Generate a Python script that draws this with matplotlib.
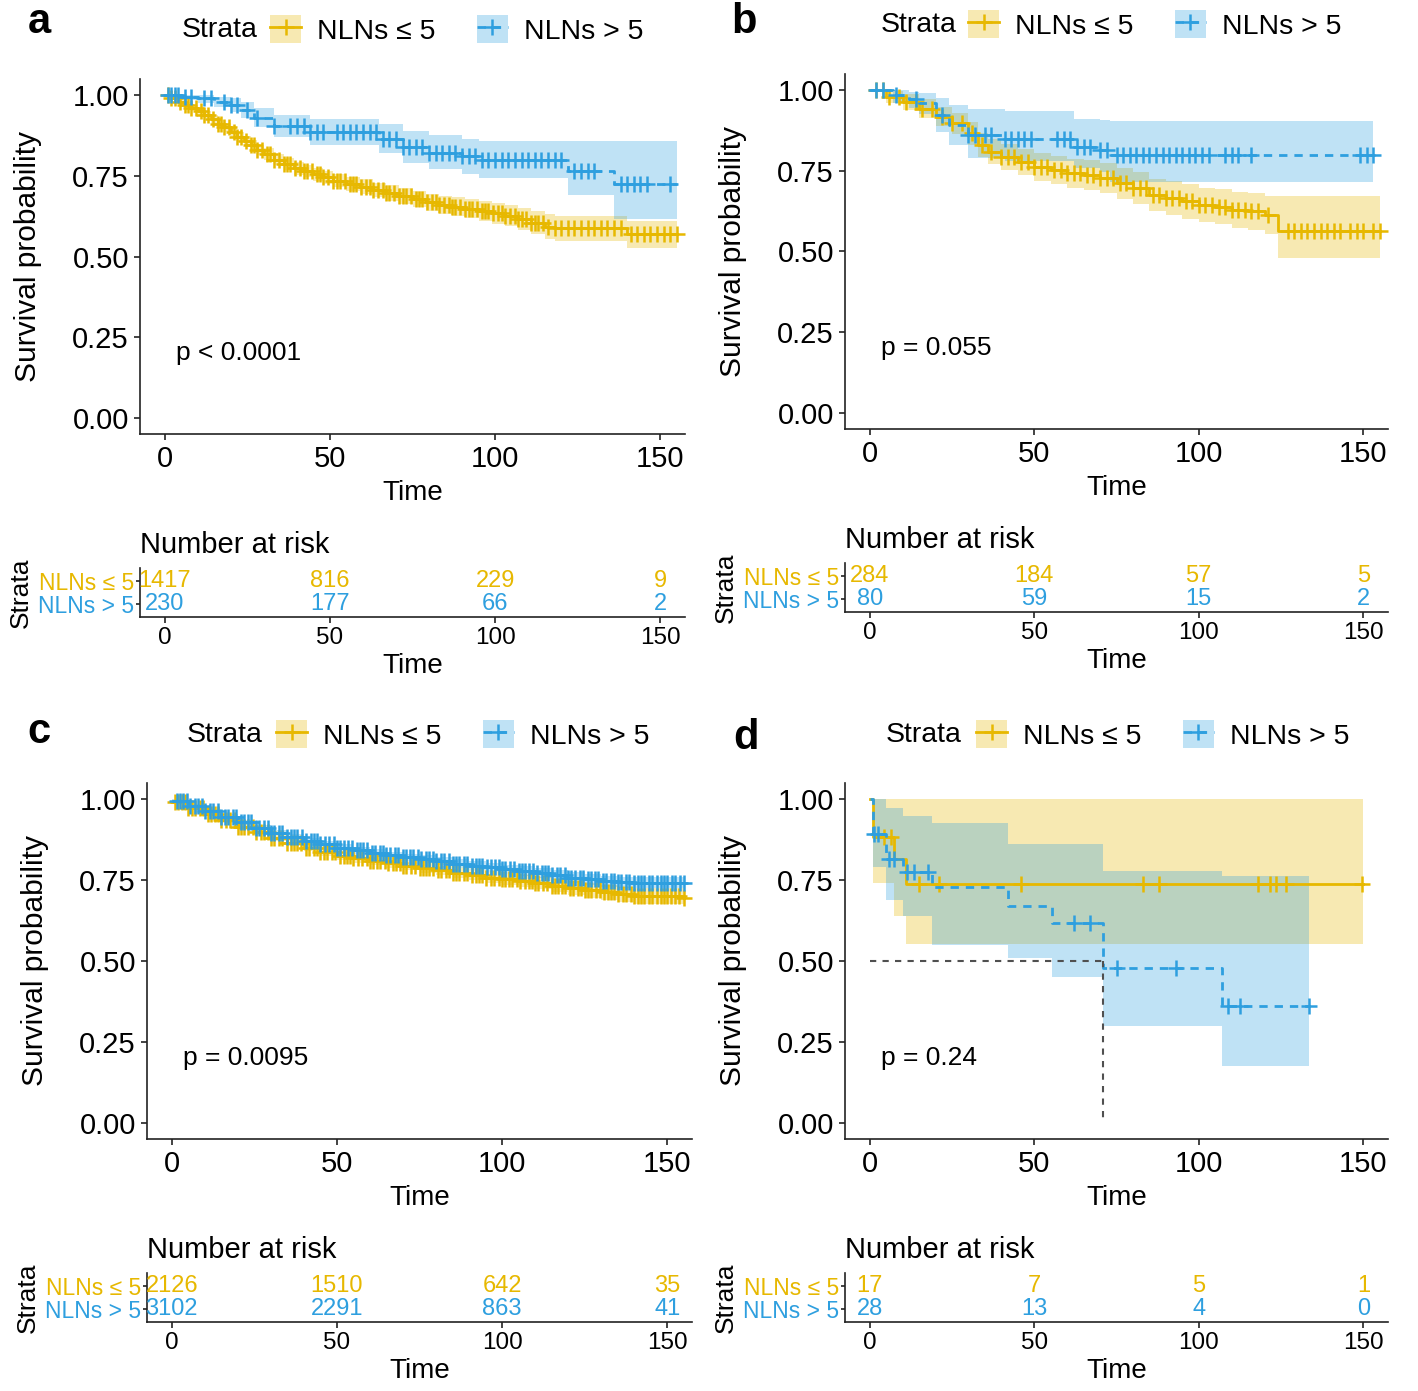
import numpy as np
import matplotlib.pyplot as plt
from matplotlib.patches import Patch
from matplotlib.lines import Line2D

plt.rcParams['font.family'] = ['Liberation Sans', 'DejaVu Sans']

YEL = '#E7B800'
BLU = '#2E9FDF'
groups = ['NLNs \u2264 5', 'NLNs > 5']
pvals = ['p < 0.0001', 'p = 0.055', 'p = 0.0095', 'p = 0.24']
risk_times = [0, 50, 100, 150]

# ---- panel a ----
a_low_t = [0, 2, 4, 6, 8, 10, 12, 14, 16, 18, 20, 22, 24, 26, 28, 30, 33, 36, 39, 42, 45, 48, 51, 55, 59, 63, 67, 71, 75, 79, 83, 87, 91, 95, 99, 103, 107, 111, 115, 118, 140, 155]
a_low_s = [1.0, .99, .98, .97, .96, .95, .94, .925, .91, .90, .885, .87, .858, .845, .83, .817, .80, .786, .773, .765, .755, .745, .735, .725, .716, .706, .697, .688, .678, .668, .660, .654, .648, .641, .634, .626, .617, .605, .592, .587, .569, .569]
a_low_lo = [1.0, .985, .973, .962, .951, .94, .929, .913, .897, .886, .87, .855, .842, .828, .813, .799, .782, .767, .754, .745, .735, .724, .714, .703, .693, .683, .673, .663, .652, .641, .632, .625, .618, .61, .602, .593, .583, .569, .553, .548, .527, .527]
a_low_hi = [1.0, .995, .987, .978, .969, .96, .951, .937, .923, .914, .9, .885, .874, .862, .847, .835, .818, .805, .792, .785, .775, .766, .756, .747, .739, .729, .721, .713, .704, .695, .688, .683, .678, .672, .666, .659, .651, .641, .631, .626, .611, .611]
a_low_cens = [1, 2, 3, 4.5, 6, 7, 8, 9.5, 11, 12, 13, 14.5, 16, 17, 18, 19.5, 21, 22, 23, 24.5, 26, 27, 28, 29.5, 31, 32, 33, 34.5, 36, 37, 38, 39.5, 41, 42, 43, 44.5, 46, 47, 48, 49.5, 51, 52, 53, 54.5, 56, 57, 58, 59.5, 61, 62, 63, 64.5, 66, 67, 68, 69.5, 71, 72, 73, 74.5, 76, 77, 78, 79.5, 81, 82, 83, 84.5, 86, 87, 88, 89.5, 91, 92, 93, 94.5, 96, 97, 98, 99.5, 101, 102, 103, 104.5, 106, 107, 108, 109.5, 111, 112, 113, 114.5, 116, 118, 120, 122, 124, 126, 128, 130, 132, 134, 136, 138, 141, 143, 145, 147, 149, 151, 153, 155]
a_high_t = [0, 5, 10, 15, 20, 23, 27, 33, 44, 65, 72, 80, 90, 95, 122, 136, 155]
a_high_s = [1.0, .995, .99, .98, .97, .955, .93, .905, .885, .865, .84, .822, .81, .80, .765, .724, .724]
a_high_lo = [1.0, .985, .975, .962, .948, .93, .9, .87, .845, .82, .79, .77, .755, .742, .69, .615, .615]
a_high_hi = [1.0, 1.0, 1.0, .995, .99, .98, .96, .94, .925, .91, .89, .875, .865, .858, .858, .858, .858]
a_high_cens = [1, 2, 3, 4, 6, 8, 12, 14, 18, 20, 22, 25, 28, 33, 38, 40, 42, 44, 46, 48, 52, 54, 56, 58, 60, 62, 64, 66, 68, 70, 72, 74, 76, 78, 80, 82, 84, 86, 88, 90, 92, 94, 96, 98, 100, 102, 104, 106, 108, 110, 112, 114, 116, 118, 120, 124, 126, 128, 130, 138, 140, 142, 144, 146, 153]
a_risk = [[1417, 816, 229, 9], [230, 177, 66, 2]]

# ---- panel b ----
b_low_t = [0, 5, 10, 15, 20, 25, 30, 33, 36, 40, 45, 50, 55, 60, 65, 70, 75, 80, 85, 90, 95, 100, 105, 110, 115, 120, 124, 155]
b_low_s = [1.0, .979, .964, .943, .918, .897, .866, .83, .809, .794, .778, .763, .753, .742, .737, .727, .711, .696, .675, .665, .655, .644, .639, .629, .624, .613, .565, .565]
b_low_lo = [1.0, .96, .94, .915, .888, .864, .83, .792, .77, .754, .737, .72, .709, .697, .691, .68, .663, .647, .624, .613, .602, .59, .584, .573, .567, .555, .48, .48]
b_low_hi = [1.0, .997, .988, .971, .948, .93, .902, .868, .848, .834, .819, .806, .797, .787, .783, .774, .759, .745, .726, .717, .708, .698, .694, .685, .681, .671, .672, .672]
b_low_cens = [2, 4, 6, 9, 11, 14, 16, 19, 22, 25, 28, 31, 34, 37, 40, 42, 44, 46, 48, 50, 52, 54, 56, 58, 60, 62, 64, 66, 68, 70, 72, 74, 76, 78, 80, 82, 84, 86, 88, 90, 92, 94, 96, 98, 100, 102, 104, 106, 108, 110, 112, 114, 116, 118, 121, 127, 129, 131, 133, 135, 137, 139, 141, 143, 146, 148, 150, 153, 155]
b_high_t = [0, 7, 12, 15, 20, 24, 30, 41, 62, 70, 73, 153]
b_high_s = [1.0, .985, .974, .96, .923, .892, .861, .85, .825, .814, .80, .80]
b_high_lo = [1.0, .96, .945, .925, .87, .83, .79, .78, .76, .745, .716, .716]
b_high_hi = [1.0, 1.0, .995, .99, .975, .955, .943, .935, .91, .907, .905, .905]
b_high_cens = [2, 4, 8, 14, 22, 30, 32, 35, 37, 41, 43, 45, 47, 49, 57, 59, 61, 63, 65, 67, 70, 72, 75, 77, 79, 81, 83, 85, 87, 89, 91, 93, 95, 97, 99, 101, 103, 108, 110, 112, 116, 149, 151, 153]
b_risk = [[284, 184, 57, 5], [80, 59, 15, 2]]

# ---- panel c ----
c_t = [0, 5, 10, 15, 20, 25, 30, 35, 40, 45, 50, 55, 60, 65, 70, 75, 80, 85, 90, 95, 100, 105, 110, 115, 120, 125, 130, 135, 140, 155]
c_low_s = [.99, .972, .955, .935, .915, .898, .88, .865, .85, .837, .825, .817, .81, .802, .795, .787, .78, .772, .765, .758, .752, .747, .742, .733, .725, .718, .712, .706, .70, .695]
c_low_lo = [.985, .966, .948, .927, .906, .888, .87, .854, .839, .825, .813, .804, .797, .788, .781, .772, .765, .756, .749, .741, .734, .729, .723, .713, .704, .696, .689, .682, .675, .67]
c_low_hi = [.995, .978, .962, .943, .924, .908, .89, .876, .861, .849, .837, .83, .823, .816, .809, .802, .795, .788, .781, .775, .77, .765, .761, .753, .746, .74, .735, .73, .725, .72]
c_low_cens = [1, 2, 3, 4, 5, 6, 7, 8.5, 9.5, 11, 12, 13, 14, 15, 16.5, 17.5, 19, 20, 21, 22, 23, 24.5, 25.5, 27, 28, 29, 30, 31, 32.5, 33.5, 35, 36, 37, 38, 39, 40.5, 41.5, 43, 44, 45, 46, 47, 48.5, 49.5, 51, 52, 53, 54, 55, 56.5, 57.5, 59, 60, 61, 62, 63, 64.5, 65.5, 67, 68, 69, 70, 71, 72.5, 73.5, 75, 76, 77, 78, 79, 80.5, 81.5, 83, 84, 85, 86, 87, 88.5, 89.5, 91, 92, 93, 94, 95, 96.5, 97.5, 99, 100, 101, 102, 103, 104.5, 105.5, 107, 108, 109, 110, 111, 112.5, 113.5, 115, 116, 117, 118, 119, 120.5, 121.5, 123, 124, 125, 126, 127, 128.5, 129.5, 131, 132, 133, 134, 135, 136.5, 137.5, 139, 140, 141, 142, 143, 144.5, 145.5, 147, 148, 149, 150, 151, 152.5, 153.5, 155]
c_high_s = [.995, .98, .964, .946, .928, .912, .897, .884, .871, .86, .85, .842, .835, .827, .82, .815, .809, .801, .794, .789, .784, .779, .773, .766, .758, .752, .747, .744, .742, .742]
c_high_lo = [.99, .974, .957, .939, .92, .904, .888, .875, .862, .85, .84, .831, .824, .816, .808, .803, .796, .788, .78, .775, .77, .764, .758, .75, .742, .735, .73, .727, .725, .725]
c_high_hi = [1.0, .986, .971, .953, .936, .92, .906, .893, .88, .87, .86, .853, .846, .838, .832, .827, .822, .814, .808, .803, .798, .794, .788, .782, .774, .769, .764, .761, .759, .759]
c_high_cens = [1.5, 2.5, 3.5, 4.5, 5.5, 7, 8, 9, 10, 11.5, 12.5, 14, 15, 16, 17, 18.5, 19.5, 21, 22, 23, 24, 25.5, 26.5, 28, 29, 30, 31, 32.5, 33.5, 35, 36, 37, 38, 39.5, 40.5, 42, 43, 44, 45, 46.5, 47.5, 49, 50, 51, 52, 53.5, 54.5, 56, 57, 58, 59, 60.5, 61.5, 63, 64, 65, 66, 67.5, 68.5, 70, 71, 72, 73, 74.5, 75.5, 77, 78, 79, 80, 81.5, 82.5, 84, 85, 86, 87, 88.5, 89.5, 91, 92, 93, 94, 95.5, 96.5, 98, 99, 100, 101, 102.5, 103.5, 105, 106, 107, 108, 109.5, 110.5, 112, 113, 114, 115, 116.5, 117.5, 119, 120, 121, 122, 123.5, 124.5, 126, 127, 128, 129, 130.5, 131.5, 133, 134, 135, 136, 137.5, 138.5, 140, 141, 142, 143, 144.5, 145.5, 147, 148, 149, 150, 151.5, 152.5, 154, 155]
c_risk = [[2126, 1510, 642, 35], [3102, 2291, 863, 41]]

# ---- panel d ----
d_low_t = [0, 1, 7.5, 11, 150]
d_low_s = [1.0, .882, .816, .739, .739]
d_low_lo = [1.0, .742, .64, .552, .552]
d_low_hi = [1.0, 1.0, 1.0, 1.0, 1.0]
d_low_cens = [4.4, 6.5, 15, 21, 46, 83, 88, 118, 121.5, 123.5, 126.5, 149.6]
d_high_t = [0, 1, 5, 10, 19, 42, 55.5, 71, 107, 133.6]
d_high_s = [1.0, .893, .815, .774, .73, .67, .618, .479, .36, .36]
d_high_lo = [1.0, .79, .69, .64, .55, .51, .45, .30, .175, .175]
d_high_hi = [1.0, 1.0, .974, .948, .925, .861, .861, .778, .763, .763]
d_high_cens = [1.4, 2.4, 5.8, 7.5, 11.4, 13.5, 17.6, 62, 67, 75, 93, 109, 112.4, 133.6]
d_risk = [[17, 7, 5, 1], [28, 13, 4, 0]]

W, H = 1418, 1391


def box(l, t, r, b):
    return [l / W, 1 - b / H, (r - l) / W, (b - t) / H]


def surv_at(times, surv, x):
    idx = np.searchsorted(times, x, side='right') - 1
    return np.asarray(surv)[idx]


panels = [
    dict(letter='a', main=(140, 79, 685, 434), table=(140, 568, 685, 617), leg_y=30, strata_r=258, leg_l=270, let_xy=(28, 22),
         curves=[(a_low_t, a_low_s, a_low_lo, a_low_hi, a_low_cens), (a_high_t, a_high_s, a_high_lo, a_high_hi, a_high_cens)], risk=a_risk, median=False),
    dict(letter='b', main=(845, 74, 1388, 429), table=(845, 563, 1388, 612), leg_y=25, strata_r=957, leg_l=968, let_xy=(731, 22),
         curves=[(b_low_t, b_low_s, b_low_lo, b_low_hi, b_low_cens), (b_high_t, b_high_s, b_high_lo, b_high_hi, b_high_cens)], risk=b_risk, median=False),
    dict(letter='c', main=(147, 783, 692, 1139), table=(147, 1273, 692, 1322), leg_y=735, strata_r=263, leg_l=276, let_xy=(27, 732),
         curves=[(c_t, c_low_s, c_low_lo, c_low_hi, c_low_cens), (c_t, c_high_s, c_high_lo, c_high_hi, c_high_cens)], risk=c_risk, median=False),
    dict(letter='d', main=(845, 783, 1388, 1139), table=(845, 1273, 1388, 1322), leg_y=735, strata_r=962, leg_l=976, let_xy=(733, 738),
         curves=[(d_low_t, d_low_s, d_low_lo, d_low_hi, d_low_cens), (d_high_t, d_high_s, d_high_lo, d_high_hi, d_high_cens)], risk=d_risk, median=True),
]

cols = [YEL, BLU]
styles = ['-', (0, (3, 2.5))]

fig = plt.figure(figsize=(W / 100, H / 100), dpi=100)

for k, p in enumerate(panels):
    ax = fig.add_axes(box(*p['main']))
    for (t, s, lo, hi, cens), c in zip(p['curves'], cols):
        ax.fill_between(t, lo, hi, step='post', color=c, alpha=0.3, lw=0)
    for (t, s, lo, hi, cens), c, ls in zip(p['curves'], cols, styles):
        ax.step(t, s, where='post', color=c, lw=2.0, ls=ls)
        ax.plot(cens, surv_at(t, s, cens), ls='none', marker='+', ms=11, mew=1.8, color=c)
    if p['median']:
        t, s = np.asarray(p['curves'][1][0]), np.asarray(p['curves'][1][1])
        med = t[np.argmax(s <= 0.5)]
        ax.plot([0, med], [0.5, 0.5], color='#505050', lw=1.5, ls=(0, (3, 3)))
        ax.plot([med, med], [0.5, 0], color='#505050', lw=1.5, ls=(0, (3, 3)))
    ax.text(3.5, 0.2, pvals[k], fontsize=19, ha='left', va='center')
    ax.set_xlim(-7.5, 157.5)
    ax.set_ylim(-0.05, 1.05)
    ax.set_xticks(risk_times)
    ax.set_yticks([0, 0.25, 0.5, 0.75, 1.0])
    ax.set_yticklabels(['0.00', '0.25', '0.50', '0.75', '1.00'])
    for sp in ['top', 'right']:
        ax.spines[sp].set_visible(False)
    for sp in ['left', 'bottom']:
        ax.spines[sp].set_linewidth(1.2)
        ax.spines[sp].set_color('#222222')
    ax.tick_params(labelsize=21, length=4, width=1.2, pad=4, color='#222222')
    ax.set_xlabel('Time', fontsize=20, labelpad=5)
    ax.set_ylabel('Survival probability', fontsize=21.5, labelpad=22)

    # legend
    handles = [(Patch(facecolor=c, alpha=0.3, lw=0), Line2D([], [], color=c, ls=ls, lw=2.0, marker='+', ms=11, mew=1.8))
               for c, ls in zip(cols, styles)]
    fig.legend(handles, groups, loc='center left', bbox_to_anchor=(p['leg_l'] / W, 1 - p['leg_y'] / H), ncol=2,
               frameon=False, fontsize=20.5, handlelength=1.1, handleheight=1.1, handletextpad=0.55,
               columnspacing=1.45, borderpad=0, borderaxespad=0)
    fig.text(p['strata_r'] / W, 1 - p['leg_y'] / H, 'Strata', fontsize=20.5, ha='right', va='center')
    fig.text(p['let_xy'][0] / W, 1 - p['let_xy'][1] / H, p['letter'], fontsize=30, fontweight='bold', ha='left', va='center')

    # risk table
    tb = fig.add_axes(box(*p['table']))
    tb.set_xlim(-7.5, 157.5)
    tb.set_ylim(0.4, 2.6)
    for row, (vals, c) in enumerate(zip(p['risk'], cols)):
        for tt, n in zip(risk_times, vals):
            tb.text(tt, 2 - row, str(n), color=c, fontsize=17, ha='center', va='center')
    tb.set_xticks(risk_times)
    tb.set_yticks([2, 1])
    tb.set_yticklabels(groups)
    for lab, c in zip(tb.get_yticklabels(), cols):
        lab.set_color(c)
    for sp in ['top', 'right']:
        tb.spines[sp].set_visible(False)
    for sp in ['left', 'bottom']:
        tb.spines[sp].set_linewidth(1.2)
        tb.spines[sp].set_color('#222222')
    tb.tick_params(axis='x', labelsize=17.5, length=4, width=1.2, pad=3, color='#222222')
    tb.tick_params(axis='y', labelsize=16.5, length=3, width=1.2, pad=1, color='#222222')
    tb.set_xlabel('Time', fontsize=20, labelpad=3)
    tb.set_ylabel('Strata', fontsize=19, labelpad=4)
    tb.set_title('Number at risk', fontsize=21, loc='left', pad=11)

fig.savefig('out.png', dpi=100)
